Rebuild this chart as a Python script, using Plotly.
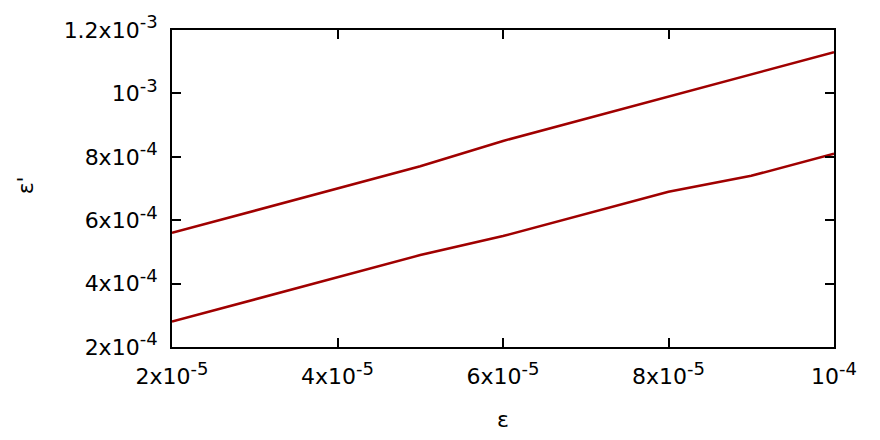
import plotly.graph_objects as go

x_vals = [2e-5, 3e-5, 4e-5, 5e-5, 6e-5, 7e-5, 8e-5, 9e-5, 1e-4]
upper = [5.6e-4, 6.3e-4, 7.0e-4, 7.7e-4, 8.5e-4, 9.2e-4, 9.9e-4, 1.06e-3, 1.13e-3]
lower = [2.8e-4, 3.5e-4, 4.2e-4, 4.9e-4, 5.5e-4, 6.2e-4, 6.9e-4, 7.4e-4, 8.1e-4]

x_mant = ["2x10", "4x10", "6x10", "8x10", "10"]
x_exp = ["-5", "-5", "-5", "-5", "-4"]
x_ticks = [2e-5, 4e-5, 6e-5, 8e-5, 1e-4]
y_mant = ["2x10", "4x10", "6x10", "8x10", "10", "1.2x10"]
y_exp = ["-4", "-4", "-4", "-4", "-3", "-3"]
y_ticks = [2e-4, 4e-4, 6e-4, 8e-4, 1e-3, 1.2e-3]
x_title = "ε"
y_title = "ε'"


def label(m, e):
    return m + '<sup><span style="font-size:18px">' + e + '</span></sup>'


x_ticktext = [label(m, e) for m, e in zip(x_mant, x_exp)]
y_ticktext = [label(m, e) for m, e in zip(y_mant, y_exp)]

color = "#a00000"
fig = go.Figure()
for ys in (upper, lower):
    fig.add_trace(go.Scatter(x=x_vals, y=ys, mode="lines",
                             line=dict(color=color, width=2.5), showlegend=False))

font = dict(family="DejaVu Sans", size=22, color="black")
axis_common = dict(showgrid=False, zeroline=False, showline=True, linecolor="black",
                   linewidth=2, mirror="ticks", ticks="inside", ticklen=9,
                   tickwidth=1.5, tickcolor="black", tickfont=font, automargin=False)

fig.update_layout(
    width=872, height=432,
    margin=dict(l=164, r=46, t=22, b=93),
    paper_bgcolor="white", plot_bgcolor="white",
    font=font,
    xaxis=dict(range=[2e-5, 1e-4], tickvals=x_ticks, ticktext=x_ticktext,
               ticklabelstandoff=9, **axis_common),
    yaxis=dict(range=[2e-4, 1.2e-3], tickvals=y_ticks, ticktext=y_ticktext,
               ticklabelstandoff=8, **axis_common),
    annotations=[
        dict(text=x_title, xref="paper", yref="paper", x=0.5, y=-0.23,
             xanchor="center", yanchor="middle", showarrow=False, font=font),
        dict(text=y_title, xref="paper", yref="paper", x=-0.222, y=0.51,
             xanchor="center", yanchor="middle", showarrow=False, font=font,
             textangle=-90),
    ],
)
fig.write_html("out.html")
